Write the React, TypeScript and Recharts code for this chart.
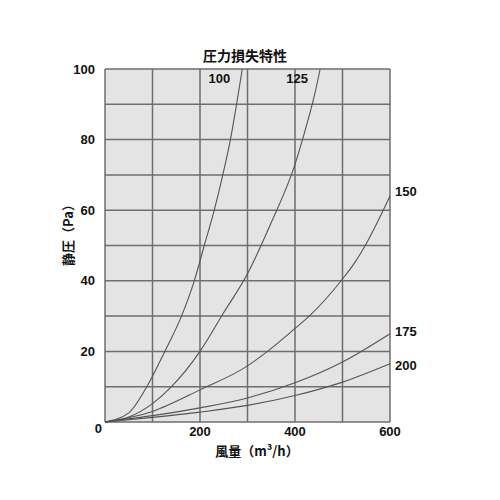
import { LineChart, Line, XAxis, YAxis, CartesianGrid } from 'recharts'

// 風量 (m³/h) / 静圧 (Pa)
const flow100 = [0, 50, 88, 126, 161, 188, 209, 230, 248, 264, 277, 289]
const pressure100 = [0, 2.6, 10, 20, 30, 40, 50, 60, 70, 80, 90, 100]

const flow125 = [0, 50, 100, 140, 200, 250, 300, 350, 400, 420, 440, 453]
const pressure125 = [0, 1.4, 5.2, 10, 20, 31, 42, 56.5, 73, 82, 92, 100]

const flow150 = [0, 100, 200, 300, 342, 400, 430, 500, 525, 550, 575, 600]
const pressure150 = [0, 3, 9.1, 15.9, 20, 26.5, 30, 40.5, 45, 50.5, 57, 64]

const flow175 = [0, 100, 200, 300, 400, 500, 600]
const pressure175 = [0, 1.8, 4, 6.8, 11.1, 17, 25]

const flow200 = [0, 100, 200, 300, 400, 500, 600]
const pressure200 = [0, 1.3, 2.8, 4.7, 7.5, 11.3, 16.5]

const xTicks = [0, 100, 200, 300, 400, 500, 600]
const yTicks = [0, 10, 20, 30, 40, 50, 60, 70, 80, 90, 100]

const toPoints = (q: number[], p: number[]) => q.map((v, i) => ({ q: v, p: p[i] }))

const curves = [
  { name: '100', data: toPoints(flow100, pressure100), dx: -23, dy: 9, anchor: 'middle' },
  { name: '125', data: toPoints(flow125, pressure125), dx: -23, dy: 9, anchor: 'middle' },
  { name: '150', data: toPoints(flow150, pressure150), dx: 5, dy: -5, anchor: 'start' },
  { name: '175', data: toPoints(flow175, pressure175), dx: 5, dy: -2, anchor: 'start' },
  { name: '200', data: toPoints(flow200, pressure200), dx: 5, dy: 2, anchor: 'start' },
]

const FONT = '"Liberation Sans", Arial, sans-serif'
const JP_FONT = '"Noto Sans CJK JP", sans-serif'

function endLabel(name: string, last: number, dx: number, dy: number, anchor: string) {
  return (props: any) => {
    if (props.index !== last) return null
    return (
      <text
        key={`lbl-${name}`}
        x={props.x + dx}
        y={props.y + dy}
        textAnchor={anchor}
        dominantBaseline="central"
        fontFamily={FONT}
        fontSize={13}
        fontWeight="bold"
        fill="#111"
      >
        {name}
      </text>
    )
  }
}

// y tick: only every 20; the shared origin "0" sits a little lower and to the right
function YTick(props: any) {
  const v = props.payload.value
  if (v % 20 !== 0) return null
  const zero = v === 0
  return (
    <text
      x={props.x + (zero ? 7 : 0)}
      y={props.y + (zero ? 6 : 0)}
      textAnchor="end"
      dominantBaseline="central"
      fontFamily={FONT}
      fontSize={13}
      fontWeight="bold"
      fill="#111"
    >
      {v}
    </text>
  )
}

export default function App() {
  return (
    <div style={{ position: 'relative', width: 484, height: 484 }}>
      <LineChart
        width={484}
        height={484}
        margin={{ top: 61, right: 102, bottom: 40, left: 57 }}
      >
        <CartesianGrid fill="#e4e4e4" stroke="#6e6e6e" strokeWidth={1.5} />
        <XAxis
          dataKey="q"
          type="number"
          domain={[0, 600]}
          ticks={xTicks}
          interval={0}
          tickFormatter={(v) => (v % 200 === 0 && v !== 0 ? String(v) : '')}
          axisLine={false}
          tickLine={false}
          tickSize={0}
          tickMargin={5}
          height={30}
          tick={{ fontFamily: FONT, fontSize: 13, fontWeight: 'bold', fill: '#111' }}
        />
        <YAxis
          type="number"
          domain={[0, 100]}
          ticks={yTicks}
          interval={0}
          axisLine={false}
          tickLine={false}
          tickSize={0}
          tickMargin={10}
          width={40}
          tick={<YTick />}
        />
        {curves.map((c) => (
          <Line
            key={c.name}
            data={c.data}
            dataKey="p"
            type="monotone"
            stroke="#555"
            strokeWidth={1.1}
            dot={false}
            isAnimationActive={false}
            label={endLabel(c.name, c.data.length - 1, c.dx, c.dy, c.anchor)}
          />
        ))}
      </LineChart>
      <div
        style={{
          position: 'absolute',
          left: 237,
          top: 47,
          transform: 'translate(-50%, -50%)',
          fontFamily: JP_FONT,
          fontWeight: 'bold',
          fontSize: 14,
          whiteSpace: 'nowrap',
          color: '#111',
        }}
      >
        圧力損失特性
      </div>
      <div
        style={{
          position: 'absolute',
          left: 59,
          top: 224,
          transform: 'translate(-50%, -50%) rotate(-90deg)',
          fontFamily: JP_FONT,
          fontWeight: 'bold',
          fontSize: 13,
          whiteSpace: 'nowrap',
          color: '#111',
        }}
      >
        静圧（Pa）
      </div>
      <div
        style={{
          position: 'absolute',
          left: 249,
          top: 442,
          transform: 'translate(-50%, -50%)',
          fontFamily: JP_FONT,
          fontWeight: 'bold',
          fontSize: 13,
          whiteSpace: 'nowrap',
          color: '#111',
        }}
      >
        風量（m³/h）
      </div>
    </div>
  )
}
